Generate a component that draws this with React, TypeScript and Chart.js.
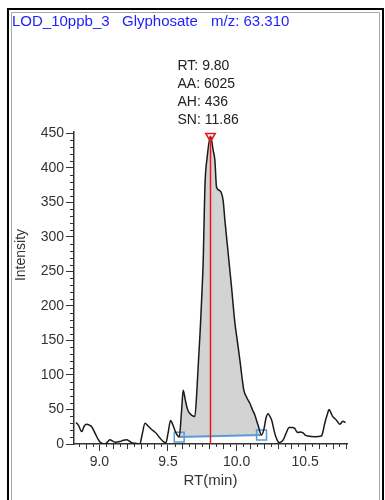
import React, { useEffect, useRef } from "react";
import { Chart, registerables } from "chart.js";

Chart.register(...registerables);

// ---- data ----
const RT_MIN = [
  8.83, 8.845, 8.871, 8.89, 8.907, 8.93, 8.944, 8.97, 8.99, 9.004, 9.025, 9.04, 9.06, 9.077, 9.095,
  9.114, 9.13, 9.15, 9.175, 9.199, 9.22, 9.235, 9.26, 9.296, 9.31, 9.333, 9.355, 9.381, 9.4, 9.417,
  9.44, 9.466, 9.485, 9.5, 9.519, 9.535, 9.55, 9.567, 9.582, 9.598, 9.611, 9.625, 9.64, 9.655, 9.672,
  9.696, 9.71, 9.72, 9.735, 9.745, 9.757, 9.769, 9.786, 9.81, 9.83, 9.842, 9.854, 9.878, 9.902, 9.915,
  9.939, 9.963, 9.988, 10.005, 10.024, 10.053, 10.075, 10.097, 10.115, 10.133, 10.157, 10.182, 10.2,
  10.215, 10.23, 10.243, 10.255, 10.279, 10.295, 10.31, 10.325, 10.34, 10.36, 10.383, 10.405, 10.425,
  10.437, 10.449, 10.465, 10.485, 10.5, 10.521, 10.57, 10.619, 10.632, 10.643, 10.66, 10.675, 10.688,
  10.7, 10.715, 10.728, 10.74, 10.752, 10.765, 10.776, 10.794,
];
const INTENSITY = [
  31, 28, 18, 26, 28.5, 27, 25, 15, 7, 3, 0.5, 0, 3, 6, 4.5,
  2.5, 3, 3.5, 5.5, 6, 4, 2, 1, 0, 12, 30, 26, 21, 18, 15,
  9, 3.5, 2, 15, 34, 28, 20, 13, 10, 45, 78, 65, 52, 45, 42,
  40, 75, 112, 165, 208, 266, 372, 416, 446, 425, 411, 372, 367, 353, 324,
  276, 228, 175, 150, 122, 78, 67, 59, 50, 42, 27, 13, 22,
  38, 44, 40, 35, 15, 6, 2, 3, 6, 15, 24, 24, 22.5,
  18, 16.5, 17.5, 16, 13, 11.5, 10.5, 11.5, 20, 30, 42, 50, 45,
  40, 37, 34.5, 31, 28.5, 31, 33, 31,
];
const BASELINE_RT = [9.582, 10.182];
const BASELINE_INT = [10, 13];
const PEAK_RT = 9.81;
const PEAK_INT = 446;
const X_TICKS = [9.0, 9.5, 10.0, 10.5];
const Y_TICKS = [0, 50, 100, 150, 200, 250, 300, 350, 400, 450];
const TITLE_PARTS = ["LOD_10ppb_3", "Glyphosate", "m/z: 63.310"];
const PEAK_LABELS = ["RT: 9.80", "AA: 6025", "AH: 436", "SN: 11.86"];
const X_TITLE = "RT(min)";
const Y_TITLE = "Intensity";

const FONT = "'Liberation Sans', Arial, sans-serif";

export default function App() {
  const ref = useRef<HTMLCanvasElement | null>(null);

  useEffect(() => {
    const canvas = ref.current;
    if (!canvas) return;

    const trace = RT_MIN.map((x, i) => ({ x, y: INTENSITY[i] }));
    const startIdx = RT_MIN.indexOf(BASELINE_RT[0]);
    const endIdx = RT_MIN.indexOf(BASELINE_RT[1]);
    const peakArea = trace.slice(startIdx, endIdx + 1);
    const baseline = BASELINE_RT.map((x, i) => ({ x, y: BASELINE_INT[i] }));
    const marker = [
      { x: PEAK_RT, y: PEAK_INT },
      { x: PEAK_RT, y: 0 },
    ];

    const decor = {
      id: "decor",
      beforeDraw(chart: any) {
        const ctx = chart.ctx;
        ctx.save();
        ctx.fillStyle = "#fff";
        ctx.fillRect(0, 0, chart.width, chart.height);
        ctx.strokeStyle = "#000";
        ctx.lineWidth = 2;
        ctx.beginPath();
        ctx.moveTo(8, 600);
        ctx.lineTo(8, 9);
        ctx.lineTo(383, 9);
        ctx.lineTo(383, 600);
        ctx.stroke();
        ctx.strokeStyle = "#a8a8a8";
        ctx.lineWidth = 1;
        ctx.beginPath();
        ctx.moveTo(11.5, 600);
        ctx.lineTo(11.5, 12.5);
        ctx.lineTo(379.5, 12.5);
        ctx.lineTo(379.5, 600);
        ctx.stroke();
        ctx.restore();
      },
      afterDraw(chart: any) {
        const ctx = chart.ctx;
        const xs = chart.scales.x;
        const ys = chart.scales.y;
        const area = chart.chartArea;
        ctx.save();
        // minor ticks
        ctx.strokeStyle = "#333";
        ctx.lineWidth = 1;
        ctx.beginPath();
        for (let v = 10; v <= 450; v += 10) {
          if (v % 50 === 0) continue;
          const py = Math.round(ys.getPixelForValue(v)) + 0.5;
          ctx.moveTo(area.left - 4, py);
          ctx.lineTo(area.left, py);
        }
        for (let k = 177; k <= 216; k++) {
          const v = k * 0.05;
          if (k % 10 === 0) continue;
          const px = Math.round(xs.getPixelForValue(v)) + 0.5;
          const len = k % 2 === 0 ? 5 : 3;
          ctx.moveTo(px, area.bottom);
          ctx.lineTo(px, area.bottom + len);
        }
        ctx.stroke();

        // title
        ctx.fillStyle = "#1e1efa";
        ctx.font = `15px ${FONT}`;
        ctx.textBaseline = "alphabetic";
        ctx.textAlign = "left";
        ctx.fillText(TITLE_PARTS[0], 12, 26);
        ctx.fillText(TITLE_PARTS[1], 122, 26);
        ctx.fillText(TITLE_PARTS[2], 211, 26);

        // peak labels
        ctx.fillStyle = "#222";
        ctx.font = `14px ${FONT}`;
        const lx = xs.getPixelForValue(PEAK_RT) - 33;
        PEAK_LABELS.forEach((t, i) => ctx.fillText(t, lx, 69.5 + i * 18));

        // axis titles
        ctx.fillStyle = "#333";
        ctx.textAlign = "center";
        ctx.textBaseline = "middle";
        ctx.font = `15px ${FONT}`;
        ctx.fillText(X_TITLE, (area.left + area.right) / 2, 481);
        ctx.translate(21, 255);
        ctx.rotate(-Math.PI / 2);
        ctx.font = `14px ${FONT}`;
        ctx.fillText(Y_TITLE, 0, 0);
        ctx.restore();
      },
    };

    const chart = new Chart(canvas, {
      type: "line",
      data: {
        datasets: [
          {
            label: "trace",
            data: trace,
            borderColor: "#1a1a1a",
            borderWidth: 1.5,
            pointRadius: 0,
            cubicInterpolationMode: "monotone",
            fill: false,
            order: 2,
          },
          {
            label: "baseline",
            data: baseline,
            borderColor: "#5b9bd5",
            borderWidth: 2,
            pointStyle: "rect",
            pointRadius: 7,
            pointBorderWidth: 1.5,
            pointBorderColor: "#5b9bd5",
            pointBackgroundColor: "rgba(255,255,255,0)",
            fill: false,
            order: 3,
          },
          {
            label: "area",
            data: peakArea,
            borderWidth: 0,
            borderColor: "rgba(0,0,0,0)",
            backgroundColor: "#d3d3d3",
            pointRadius: 0,
            cubicInterpolationMode: "monotone",
            fill: 1,
            order: 5,
          },
          {
            label: "apex",
            data: marker,
            borderColor: "#e8141c",
            borderWidth: 1.5,
            pointStyle: "triangle",
            rotation: 180,
            pointRadius: [5.5, 0],
            pointBorderWidth: 1.5,
            pointBorderColor: "#e8141c",
            pointBackgroundColor: "rgba(255,255,255,0)",
            fill: false,
            order: 1,
          },
        ],
      } as any,
      options: {
        animation: false,
        responsive: false,
        maintainAspectRatio: false,
        layout: { padding: { top: 132, right: 38, left: 0, bottom: 0 } },
        plugins: {
          legend: { display: false },
          tooltip: { enabled: false },
          title: { display: false },
        },
        scales: {
          x: {
            type: "linear",
            min: 8.815,
            max: 10.805,
            afterBuildTicks: (s: any) => {
              s.ticks = X_TICKS.map((value) => ({ value }));
            },
            afterFit: (s: any) => {
              s.height = 56;
            },
            ticks: {
              callback: (v: any) => Number(v).toFixed(1),
              color: "#333",
              font: { family: FONT, size: 14 },
              padding: 3,
              maxRotation: 0,
              autoSkip: false,
            },
            grid: {
              drawOnChartArea: false,
              drawTicks: true,
              tickLength: 7,
              color: "#333",
              lineWidth: 1,
            },
            border: { display: true, color: "#333", width: 1.5 },
          },
          y: {
            type: "linear",
            min: 0,
            max: 452,
            afterBuildTicks: (s: any) => {
              s.ticks = Y_TICKS.map((value) => ({ value }));
            },
            afterFit: (s: any) => {
              s.width = 74;
            },
            ticks: {
              callback: (v: any) => String(v),
              color: "#333",
              font: { family: FONT, size: 14 },
              padding: 2,
              autoSkip: false,
            },
            grid: {
              drawOnChartArea: false,
              drawTicks: true,
              tickLength: 8,
              color: "#333",
              lineWidth: 1,
            },
            border: { display: true, color: "#333", width: 1.5 },
          },
        },
      } as any,
      plugins: [decor],
    });

    return () => chart.destroy();
  }, []);

  return (
    <div style={{ position: "absolute", left: 0, top: 0, width: 385, height: 500 }}>
      <canvas ref={ref} width={385} height={500} style={{ display: "block" }} />
    </div>
  );
}
